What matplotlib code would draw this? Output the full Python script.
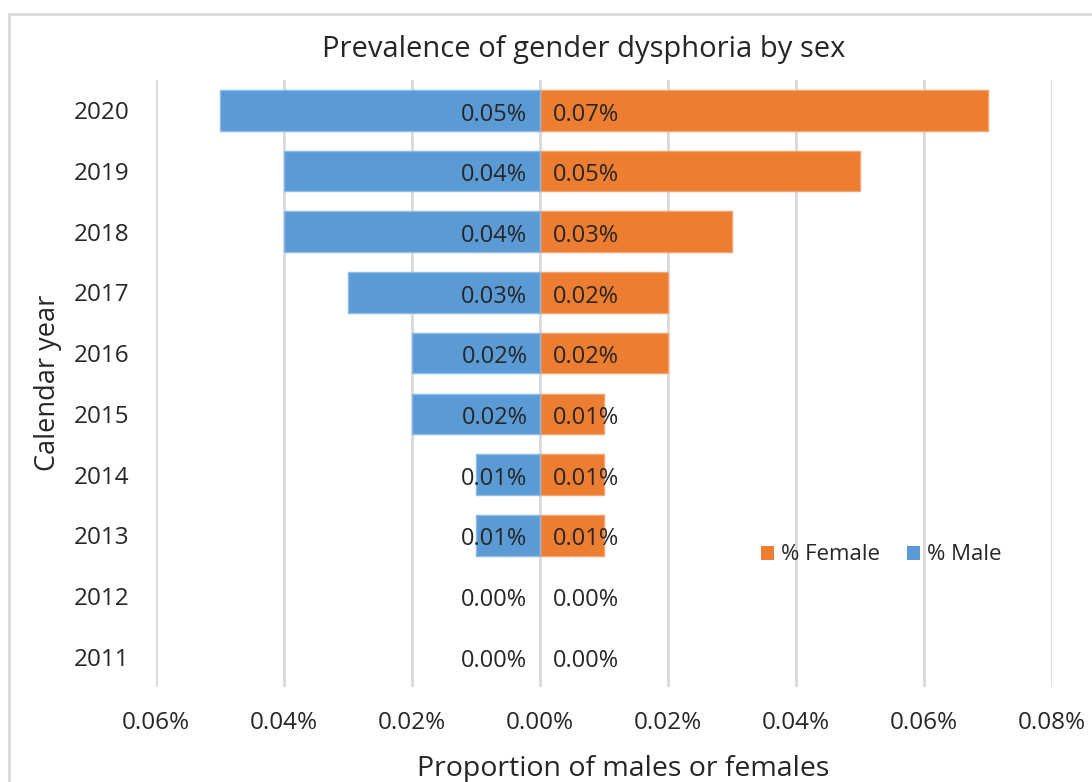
import numpy as np
import matplotlib.pyplot as plt
from matplotlib.patches import Rectangle
from matplotlib.ticker import FuncFormatter

plt.rcParams['font.family'] = ['Open Sans', 'DejaVu Sans']

years = ['2011', '2012', '2013', '2014', '2015', '2016', '2017', '2018', '2019', '2020']
male = [0.00, 0.00, 0.01, 0.01, 0.02, 0.02, 0.03, 0.04, 0.04, 0.05]
female = [0.00, 0.00, 0.01, 0.01, 0.01, 0.02, 0.02, 0.03, 0.05, 0.07]

blue = '#5B9BD5'
orange = '#ED7D31'
txt = '#262626'

fig = plt.figure(figsize=(10.92, 7.82), dpi=100)
ax = fig.add_axes([156/1092, 1 - 687/782, 896/1092, 607/782])

y = np.arange(len(years))
ax.barh(y, female, height=0.67, color=orange, edgecolor='#F5A36E',
        linewidth=[1 if v else 0 for v in female], label='% Female', zorder=3)
ax.barh(y, [-m for m in male], height=0.67, color=blue, edgecolor='#8DBAE3',
        linewidth=[1 if v else 0 for v in male], label='% Male', zorder=3)

for i in range(len(years)):
    ax.annotate('%.2f%%' % male[i], (0, y[i]), xytext=(-9, -3), textcoords='offset points',
                ha='right', va='center', fontsize=17, color=txt, zorder=4)
    ax.annotate('%.2f%%' % female[i], (0, y[i]), xytext=(9, -3), textcoords='offset points',
                ha='left', va='center', fontsize=17, color=txt, zorder=4)

ax.set_xlim(-0.06, 0.08)
ax.set_ylim(-0.5, len(years) - 0.5)
ax.set_xticks(np.arange(-0.06, 0.0801, 0.02))
ax.xaxis.set_major_formatter(FuncFormatter(lambda v, p: '%.2f%%' % abs(v)))
ax.set_yticks(y)
ax.set_yticklabels(years)
ax.tick_params(axis='both', length=0, labelsize=17.5, colors=txt)
ax.tick_params(axis='x', pad=17)
ax.tick_params(axis='y', pad=19)
ax.grid(axis='x', color='#D9D9D9', linewidth=2, zorder=0)
ax.set_axisbelow(True)
for s in ax.spines.values():
    s.set_visible(False)

fig.text(584/1092, 1 - 50/782, 'Prevalence of gender dysphoria by sex', ha='center', va='center',
         fontsize=21, color=txt)
fig.text(623/1092, 1 - 769/782, 'Proportion of males or females', ha='center', va='center',
         fontsize=20.5, color=txt)
fig.text(48/1092, 1 - 383/782, 'Calendar year', ha='center', va='center', rotation=90,
         fontsize=19.5, color=txt)

h, l = ax.get_legend_handles_labels()
ax.legend(h, l, loc='center', bbox_to_anchor=(881/1092, 1 - 555/782), bbox_transform=fig.transFigure,
          ncol=2, frameon=False, fontsize=16, handlelength=0.6, handleheight=0.6,
          handletextpad=0.3, columnspacing=1.2, labelcolor=txt)

fig.patches.append(Rectangle((9/1092, -0.1), 1.2, 1 - 14/782 + 0.1, transform=fig.transFigure,
                             fill=False, edgecolor='#D9D9D9', linewidth=2))

fig.savefig('out.png', dpi=100)
